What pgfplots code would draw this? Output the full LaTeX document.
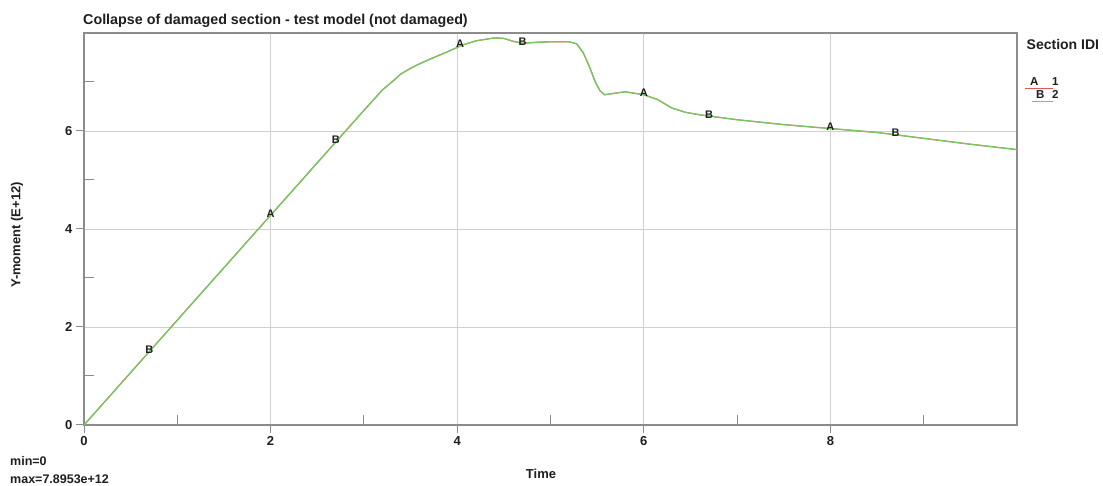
\documentclass[border=0pt]{standalone}
\usepackage{pgfplots}
\pgfplotsset{compat=1.18}
\usepackage{fontspec}
\setmainfont{Liberation Sans}
\definecolor{lsgreen}{RGB}{115,200,95}
\definecolor{lsred}{RGB}{225,90,90}
\definecolor{axgray}{RGB}{140,140,140}
\definecolor{grdgray}{RGB}{208,208,208}
\definecolor{txt}{RGB}{30,30,30}
\pgfplotstableread{
x y
0 0
1 2.14
2 4.28
3 6.42
3.2 6.84
3.3 7.00
3.4 7.17
3.55 7.33
3.7 7.46
3.9 7.62
4.05 7.75
4.2 7.84
4.4 7.90
4.5 7.89
4.6 7.83
4.7 7.79
4.85 7.81
5.0 7.82
5.2 7.82
5.28 7.78
5.35 7.60
5.42 7.30
5.48 7.00
5.53 6.82
5.58 6.74
5.65 6.76
5.8 6.80
6.0 6.74
6.15 6.64
6.3 6.47
6.45 6.38
6.6 6.33
6.8 6.28
7.0 6.23
7.5 6.13
8.0 6.05
8.5 5.97
9.0 5.85
9.5 5.73
10.0 5.62
}\curvedata
\begin{document}
\begin{tikzpicture}[x=1pt,y=1pt]
\path[use as bounding box] (0,0) rectangle (1103,486);
\begin{axis}[
  at={(84pt,61pt)}, anchor=south west,
  scale only axis, width=933pt, height=392pt,
  xmin=0, xmax=10, ymin=0, ymax=8,
  xtick={0,2,4,6,8}, ytick={0,2,4,6},
  extra x ticks={1,3,5,7,9}, extra y ticks={1,3,5,7},
  extra x tick labels={}, extra y tick labels={},
  extra tick style={tick align=inside, major tick length=10pt, grid=none},
  tick pos=left, tick align=outside,
  major tick length=8pt,
  every tick/.style={draw=axgray, line width=1pt},
  grid=major, major grid style={draw=grdgray, line width=0.9pt},
  axis line style={draw=axgray, line width=1.3pt},
  /pgf/number format/assume math mode=true,
  ticklabel style={font=\bfseries\fontsize{13}{15}\selectfont, text=txt},
  clip=false,
]
\addplot[draw=lsred, line width=1.1pt] table[x=x,y=y] {\curvedata};
\addplot[draw=lsgreen, line width=1.3pt] table[x=x,y=y] {\curvedata};
\addplot[draw=none, mark=none, nodes near coords, point meta=explicit symbolic,
  every node near coord/.append style={anchor=center, yshift=2pt, inner sep=0pt,
  font=\bfseries\fontsize{11}{13}\selectfont, text=txt}]
  coordinates {(0.7,1.50)[B] (2,4.28)[A] (2.7,5.78)[B] (4.03,7.74)[A] (4.7,7.79)[B]
               (6.0,6.74)[A] (6.7,6.30)[B] (8.0,6.05)[A] (8.7,5.93)[B]};
\end{axis}
\node[anchor=base west, font=\bfseries\fontsize{14.3}{16}\selectfont, text=txt, inner sep=0pt] at (83,461) {Collapse of damaged section - test model (not damaged)};
\node[rotate=90, font=\bfseries\fontsize{13}{15}\selectfont, text=txt, inner sep=0pt] at (17,251) {Y-moment (E+12)};
\node[font=\bfseries\fontsize{13}{15}\selectfont, text=txt, inner sep=0pt] at (541,12) {Time};
\node[anchor=base west, font=\bfseries\fontsize{12.5}{14}\selectfont, text=txt, inner sep=0pt] at (10,20) {min=0};
\node[anchor=base west, font=\bfseries\fontsize{12.5}{14}\selectfont, text=txt, inner sep=0pt] at (10,2) {max=7.8953e+12};
\node[anchor=base west, font=\bfseries\fontsize{14}{16}\selectfont, text=txt, inner sep=0pt] at (1026.5,436) {Section IDI};
\node[anchor=base west, font=\bfseries\fontsize{11.5}{13}\selectfont, text=txt, inner sep=0pt] at (1030,400) {A};
\node[anchor=base west, font=\bfseries\fontsize{11.5}{13}\selectfont, text=txt, inner sep=0pt] at (1052,400) {1};
\node[anchor=base west, font=\bfseries\fontsize{11.5}{13}\selectfont, text=txt, inner sep=0pt] at (1036,387) {B};
\node[anchor=base west, font=\bfseries\fontsize{11.5}{13}\selectfont, text=txt, inner sep=0pt] at (1052,387) {2};
\draw[lsred, line width=0.9pt] (1025,397.5) -- (1053,397.5);
\draw[lsgreen, line width=0.9pt] (1031.7,384.5) -- (1052.7,384.5);
\end{tikzpicture}
\end{document}
